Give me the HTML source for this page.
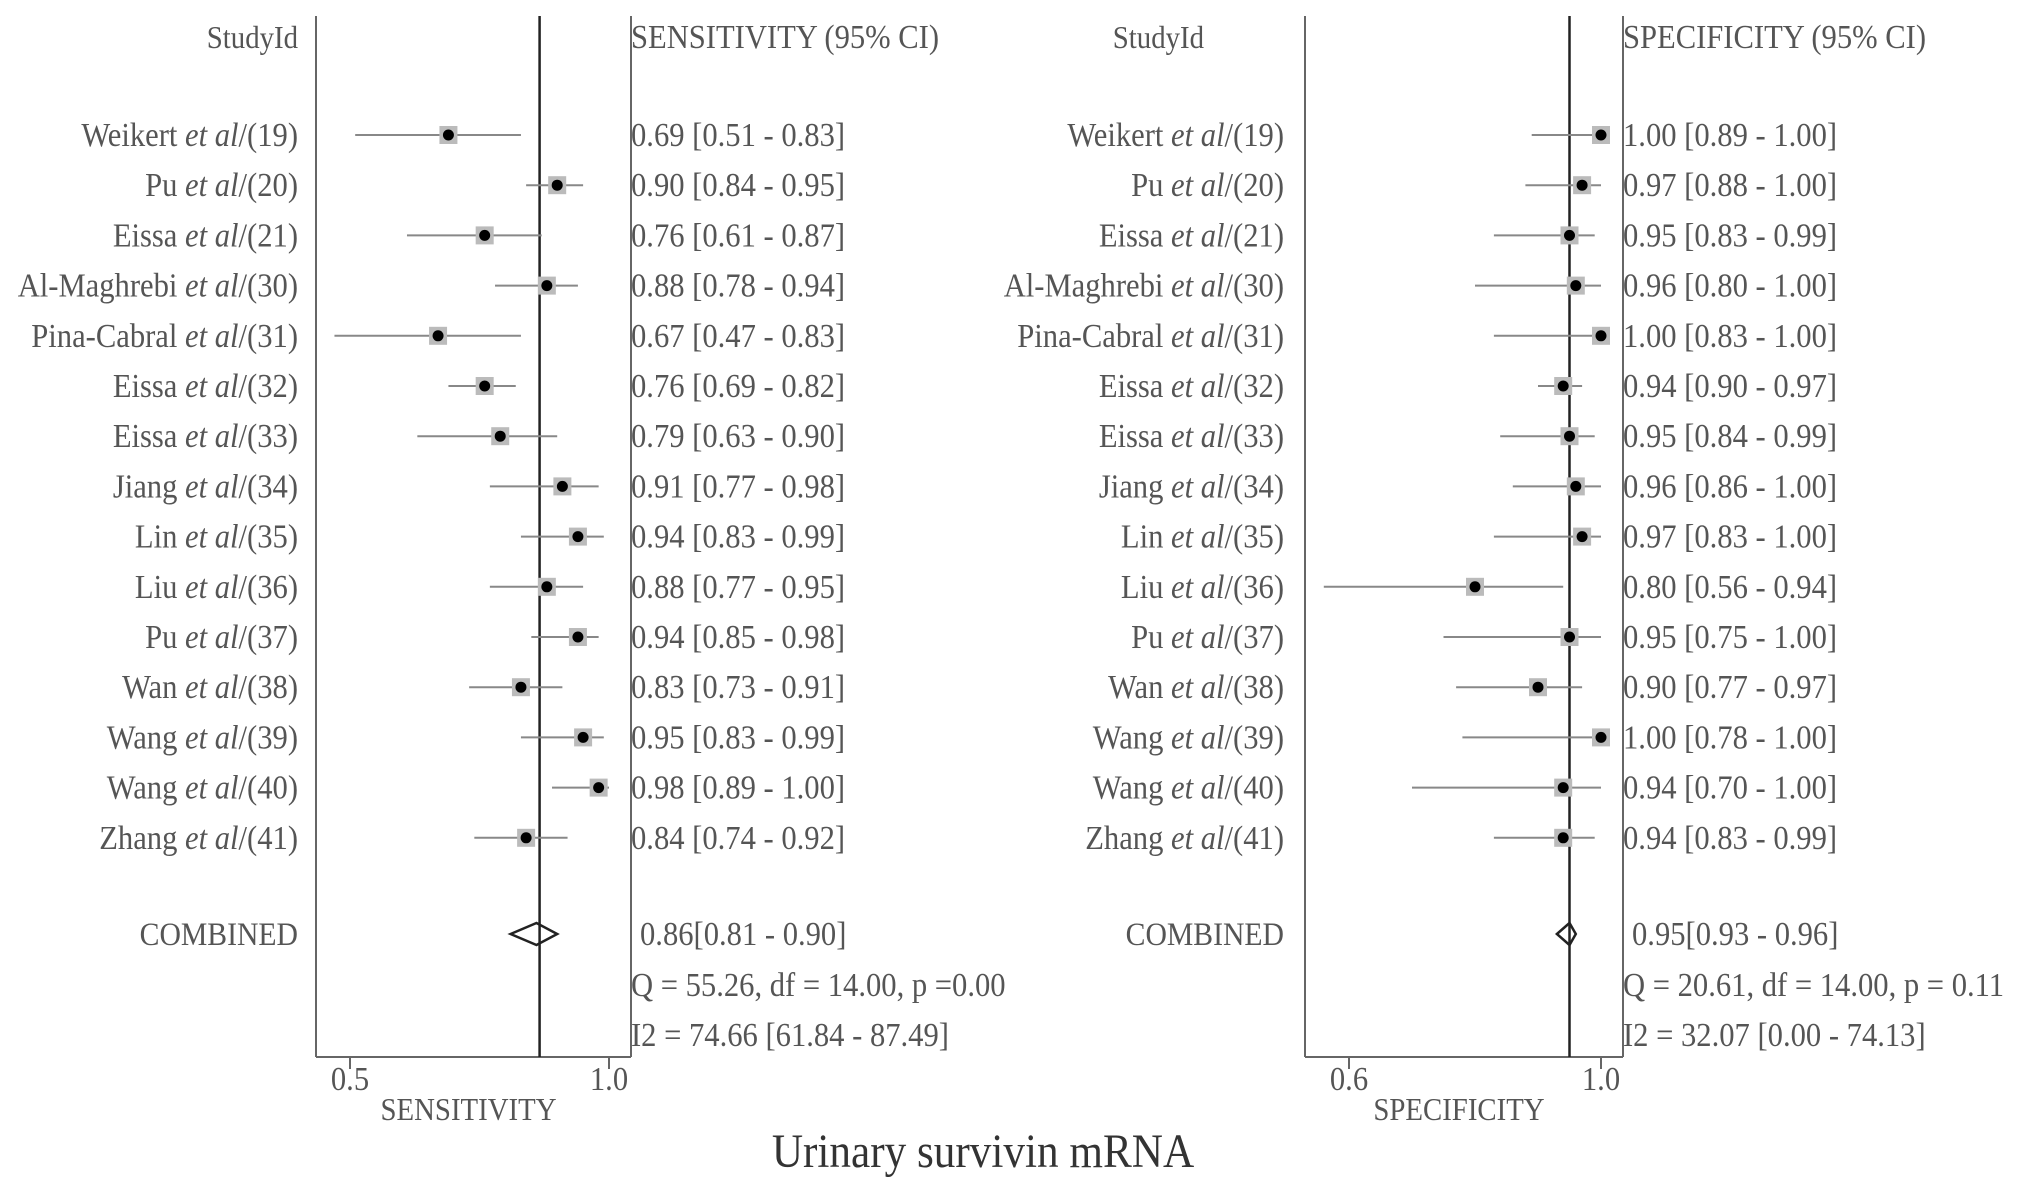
<!DOCTYPE html>
<html><head><meta charset="utf-8"><style>
html,body{margin:0;padding:0;background:#fff;}
svg{display:block;font-family:"Liberation Serif",serif;}
</style></head><body>
<svg id="chart" width="2031" height="1191" viewBox="0 0 2031 1191"></svg>
<script>
const studyNames = ["Weikert","Pu","Eissa","Al-Maghrebi","Pina-Cabral","Eissa","Eissa","Jiang","Lin","Liu","Pu","Wan","Wang","Wang","Zhang"];
const studyRefs = ["19","20","21","30","31","32","33","34","35","36","37","38","39","40","41"];
const sensEst = [0.69,0.90,0.76,0.88,0.67,0.76,0.79,0.91,0.94,0.88,0.94,0.83,0.95,0.98,0.84];
const sensLo  = [0.51,0.84,0.61,0.78,0.47,0.69,0.63,0.77,0.83,0.77,0.85,0.73,0.83,0.89,0.74];
const sensHi  = [0.83,0.95,0.87,0.94,0.83,0.82,0.90,0.98,0.99,0.95,0.98,0.91,0.99,1.00,0.92];
const specEst = [1.00,0.97,0.95,0.96,1.00,0.94,0.95,0.96,0.97,0.80,0.95,0.90,1.00,0.94,0.94];
const specLo  = [0.89,0.88,0.83,0.80,0.83,0.90,0.84,0.86,0.83,0.56,0.75,0.77,0.78,0.70,0.83];
const specHi  = [1.00,1.00,0.99,1.00,1.00,0.97,0.99,1.00,1.00,0.94,1.00,0.97,1.00,1.00,0.99];
const sensPooled = [0.86,0.81,0.90];
const specPooled = [0.95,0.93,0.96];
const sensRefLine = 0.866;
const specRefLine = 0.95;
const sensTicks = [0.5,1.0];
const specTicks = [0.6,1.0];
const sensStats = ["Q = 55.26, df = 14.00, p =0.00","I2 = 74.66 [61.84 - 87.49]"];
const specStats = ["Q = 20.61, df = 14.00, p =  0.11","I2 = 32.07 [0.00 - 74.13]"];

const NS="http://www.w3.org/2000/svg";
const svg=document.getElementById('chart');
const TXT="#555", SX=0.9, FS=34;
function el(tag,attrs,parent){const e=document.createElementNS(NS,tag);for(const k in attrs)e.setAttribute(k,attrs[k]);(parent||svg).appendChild(e);return e;}
function txt(x,y,s,anchor,g,fs){const t=el('text',{transform:`translate(${x},${y}) scale(${SX},1)`,'text-anchor':anchor||'start','font-size':fs||FS,fill:TXT},g);t.textContent=s;return t;}
const rowY=i=>135+i*50.2;
const combY=934, statY=[985,1035], boxTop=16, boxBot=1057;
const f2=v=>v.toFixed(2);

function panel(cfg){
  const g=el('g',{});
  
  
  const xs=cfg.xs;
  const l=el('line',{x1:cfg.left,y1:boxTop,x2:cfg.left,y2:boxBot,stroke:'#666','stroke-width':2},g);
  
  const r=el('line',{x1:cfg.right,y1:boxTop,x2:cfg.right,y2:boxBot,stroke:'#666','stroke-width':2},g);
  
  const b=el('line',{x1:cfg.left,y1:boxBot,x2:cfg.right,y2:boxBot,stroke:'#666','stroke-width':2},g);
  
  const ref=el('line',{x1:xs(cfg.refLine),y1:boxTop,x2:xs(cfg.refLine),y2:boxBot,stroke:'#222','stroke-width':2.5},g);
  
  cfg.ticks.forEach(tv=>{
    const tk=el('line',{x1:xs(tv),y1:boxBot,x2:xs(tv),y2:boxBot+12,stroke:'#666','stroke-width':2},g);
    
    const tl=txt(xs(tv),1090,tv.toFixed(1),'middle',g);
    
  });
  const at=txt((cfg.left+cfg.right)/2-5,1120,cfg.axisTitle,'middle',g,32);
  
  const h1=txt(cfg.headX,48,'StudyId','end',g,32);
  
  const h2=txt(cfg.right,48,cfg.header,'start',g,34);
  
  studyNames.forEach((n,i)=>{
    const y=rowY(i);
    const t=el('text',{transform:`translate(${cfg.labelX},${y+11}) scale(${SX},1)`,'text-anchor':'end','font-size':FS,fill:TXT},g);
    
    const a=el('tspan',{},t);a.textContent=n+' ';
    const it=el('tspan',{'font-style':'italic'},t);it.textContent='et al';
    const c=el('tspan',{},t);c.textContent='/('+studyRefs[i]+')';
    const ci=el('line',{x1:xs(cfg.lo[i]),y1:y,x2:xs(cfg.hi[i]),y2:y,stroke:'#888','stroke-width':2},g);
    
    const sq=el('rect',{x:xs(cfg.est[i])-9,y:y-9,width:18,height:18,fill:'#bbb'},g);
    
    const d=el('circle',{cx:xs(cfg.est[i]),cy:y,r:5.5,fill:'#000'},g);
    
    const vt=txt(cfg.right,y+11,`${f2(cfg.est[i])} [${f2(cfg.lo[i])} - ${f2(cfg.hi[i])}]`,'start',g);
    
  });
  const cl=txt(cfg.labelX,combY+11,'COMBINED','end',g,33);
  
  const p=cfg.pooled;
  const dm=el('polygon',{points:`${xs(p[1])},${combY} ${xs(p[0])},${combY-11} ${xs(p[2])},${combY} ${xs(p[0])},${combY+11}`,fill:'none',stroke:'#222','stroke-width':2.5},g);
  
  const ct=txt(cfg.right+9,combY+11,`${f2(p[0])}[${f2(p[1])} - ${f2(p[2])}]`,'start',g);
  
  cfg.stats.forEach((s,k)=>{
    const st=txt(cfg.right,statY[k]+11,s,'start',g);
    
  });
}
panel({name:'sensitivity',left:316,right:631,labelX:298,headX:298,xs:v=>350+(v-0.5)*518,refLine:sensRefLine,ticks:sensTicks,
  axisTitle:'SENSITIVITY',header:'SENSITIVITY (95% CI)',est:sensEst,lo:sensLo,hi:sensHi,pooled:sensPooled,stats:sensStats});
panel({name:'specificity',left:1305,right:1623,labelX:1284,headX:1204,xs:v=>1601-(1-v)*630,refLine:specRefLine,ticks:specTicks,
  axisTitle:'SPECIFICITY',header:'SPECIFICITY (95% CI)',est:specEst,lo:specLo,hi:specHi,pooled:specPooled,stats:specStats});
const title=txt(983,1167,'Urinary survivin mRNA','middle',null,48);


title.setAttribute('fill','#333');
</script>
</body></html>
